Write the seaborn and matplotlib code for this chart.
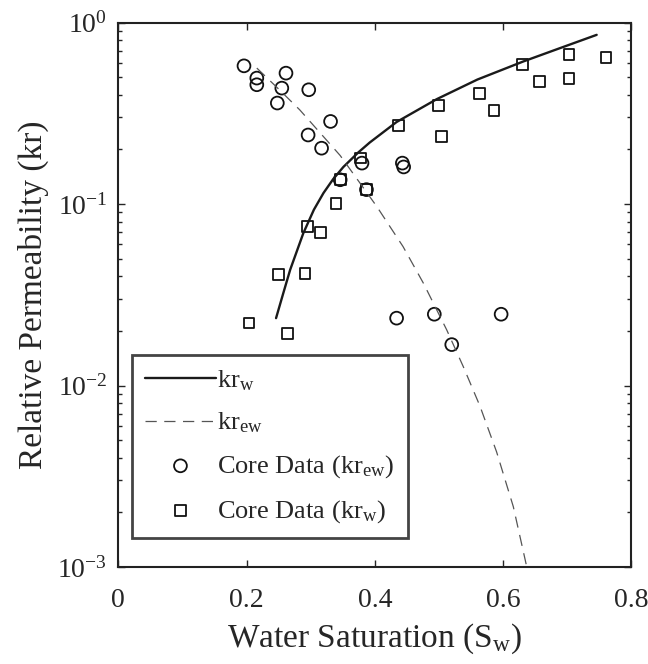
import numpy as np
import pandas as pd
import seaborn as sns
import matplotlib
matplotlib.use('Agg')
import matplotlib.pyplot as plt

################################################################################
# values

# model curve kr_w (solid)
krw_sw = [0.246, 0.257, 0.268, 0.2885, 0.305, 0.320, 0.335, 0.351, 0.374, 0.392, 0.434, 0.4965,
          0.560, 0.6316, 0.690, 0.746]
krw_val = [0.0235, 0.032, 0.0434, 0.069, 0.093, 0.115, 0.137, 0.160, 0.192, 0.218, 0.283, 0.378,
           0.485, 0.610, 0.725, 0.855]

# model curve kr_ew (dashed)
krew_sw = [0.216, 0.250, 0.283, 0.346, 0.403, 0.444, 0.476, 0.512, 0.538, 0.564, 0.590, 0.616, 0.637]
krew_val = [0.561, 0.43, 0.33, 0.185, 0.097, 0.0583, 0.0365, 0.0203, 0.0127, 0.0077, 0.0043, 0.00215, 0.001]

# core data kr_ew (circles)
core_ew_sw = [0.196, 0.216, 0.216, 0.2615, 0.255, 0.248, 0.297, 0.331, 0.296, 0.317, 0.380, 0.346,
              0.387, 0.443, 0.445, 0.434, 0.4928, 0.597, 0.520]
core_ew_val = [0.577, 0.494, 0.454, 0.526, 0.435, 0.360, 0.426, 0.285, 0.240, 0.203, 0.168, 0.136,
               0.120, 0.168, 0.160, 0.0235, 0.0247, 0.0247, 0.0168]

# core data kr_w (squares)
core_w_sw = [0.204, 0.2636, 0.2495, 0.291, 0.2947, 0.3156, 0.3395, 0.346, 0.378, 0.387, 0.4366,
             0.499, 0.504, 0.563, 0.586, 0.6306, 0.6565, 0.703, 0.703, 0.7605]
core_w_val = [0.0221, 0.0194, 0.0407, 0.0416, 0.0752, 0.0697, 0.101, 0.136, 0.179, 0.120, 0.270,
              0.348, 0.236, 0.408, 0.326, 0.585, 0.473, 0.664, 0.490, 0.644]

x_ticks = [0, 0.2, 0.4, 0.6, 0.8]

################################################################################

sns.set_style('ticks')
plt.rcParams['font.family'] = ['Liberation Serif', 'DejaVu Serif']
plt.rcParams['mathtext.fontset'] = 'custom'
plt.rcParams['mathtext.rm'] = 'Liberation Serif'
plt.rcParams['mathtext.it'] = 'Liberation Serif:italic'
plt.rcParams['mathtext.bf'] = 'Liberation Serif:bold'

fig = plt.figure(figsize=(6.48, 6.64), dpi=100)
ax = fig.add_axes([118.3/648, 1-567/664, 513/648, 544.5/664])

df_w = pd.DataFrame({'Sw': krw_sw, 'kr': krw_val})
df_ew = pd.DataFrame({'Sw': krew_sw, 'kr': krew_val})
df_cew = pd.DataFrame({'Sw': core_ew_sw, 'kr': core_ew_val})
df_cw = pd.DataFrame({'Sw': core_w_sw, 'kr': core_w_val})

sns.lineplot(data=df_w, x='Sw', y='kr', ax=ax, color='#1a1a1a', lw=1.7,
             sort=False, label=r'kr$_\mathrm{w}$')
sns.lineplot(data=df_ew, x='Sw', y='kr', ax=ax, color='#555555', lw=0.9,
             sort=False, label=r'kr$_\mathrm{ew}$', dashes=False, linestyle=(0, (9, 6)))
sns.scatterplot(data=df_cew, x='Sw', y='kr', ax=ax, marker='o', s=85,
                facecolors='none', edgecolor='#111111', linewidth=1.3,
                label=r'Core Data (kr$_\mathrm{ew}$)')
sns.scatterplot(data=df_cw, x='Sw', y='kr', ax=ax, marker='s', s=60,
                facecolors='none', edgecolor='#111111', linewidth=1.3,
                label=r'Core Data (kr$_\mathrm{w}$)')

ax.set_yscale('log')
ax.set_xlim(0, 0.8)
ax.set_ylim(1e-3, 1)
ax.set_xticks(x_ticks)
ax.set_xticklabels(['0', '0.2', '0.4', '0.6', '0.8'])

ax.tick_params(which='both', direction='in', top=True, right=True, labelsize=20, width=1)
ax.tick_params(which='major', length=5)
ax.tick_params(axis='y', which='major', pad=8)
ax.tick_params(axis='x', which='major', pad=15)
ax.tick_params(which='minor', length=3)
ax.tick_params(axis='x', which='minor', bottom=False, top=False)
for sp in ax.spines.values():
    sp.set_linewidth(1.5)
    sp.set_color('#222222')

ax.set_xlabel(r'Water Saturation (S$_\mathrm{w}$)', fontsize=24, labelpad=6)
ax.set_ylabel('Relative Permeability (kr)', fontsize=24, labelpad=6)

leg = ax.legend(loc='lower left', bbox_to_anchor=(0.026, 0.053), borderaxespad=0,
                fontsize=19, handlelength=2.7, handletextpad=0.05, labelspacing=0.68,
                fancybox=False, edgecolor='#444444', framealpha=1, borderpad=0.5)
leg.get_frame().set_linewidth(2)

fig.savefig('out.png', dpi=100)
